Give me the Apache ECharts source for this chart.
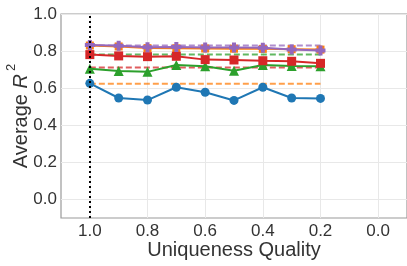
<!DOCTYPE html>
<html>
<head>
<meta charset="utf-8">
<script src="https://cdn.jsdelivr.net/npm/echarts@6/dist/echarts.min.js"></script>
<style>
html, body { margin: 0; padding: 0; background: #fff; }
#main { width: 407px; height: 266px; }
</style>
</head>
<body>
<div id="main"></div>
<script>
var quality = [1.0, 0.9, 0.8, 0.7, 0.6, 0.5, 0.4, 0.3, 0.2];
var blueVals = [0.626, 0.547, 0.536, 0.605, 0.578, 0.534, 0.605, 0.547, 0.545];
var orangeVals = [0.830, 0.825, 0.816, 0.815, 0.814, 0.813, 0.812, 0.810, 0.808];
var greenVals = [0.705, 0.693, 0.688, 0.725, 0.718, 0.694, 0.725, 0.720, 0.718];
var redVals = [0.781, 0.774, 0.770, 0.772, 0.754, 0.752, 0.748, 0.745, 0.734];
var purpleVals = [0.833, 0.829, 0.821, 0.822, 0.820, 0.820, 0.818, 0.809, 0.803];
// horizontal reference levels (dashed)
var refNames = ['orange', 'red', 'green', 'purple'];
var refVals = [0.624, 0.711, 0.781, 0.830];
var xTicks = [1.0, 0.8, 0.6, 0.4, 0.2, 0.0];
var yTicks = [0.0, 0.2, 0.4, 0.6, 0.8, 1.0];

var colors = {
    blue: '#1f77b4', orange: '#ff7f0e', green: '#2ca02c',
    red: '#d62728', purple: '#9467bd'
};

function pairs(vals) {
    return quality.map(function (q, i) { return [q, vals[i]]; });
}

var series = [];
refNames.forEach(function (n, i) {
    series.push({
        type: 'line',
        data: [[quality[0], refVals[i]], [quality[quality.length - 1], refVals[i]]],
        symbol: 'none',
        lineStyle: { color: colors[n], width: 2, type: [6, 3], opacity: 0.75 },
        z: 1
    });
});

function lineSeries(vals, color, symbol, size) {
    return {
        type: 'line',
        data: pairs(vals),
        symbol: symbol,
        symbolSize: size,
        lineStyle: { color: color, width: 2 },
        itemStyle: { color: color },
        z: 3
    };
}

var blue = lineSeries(blueVals, colors.blue, 'circle', 9);
blue.markLine = {
    silent: true,
    symbol: 'none',
    label: { show: false },
    lineStyle: { color: '#000', type: [2, 3], width: 2 },
    data: [{ xAxis: 1.0 }]
};
series.push(blue);
series.push(lineSeries(orangeVals, colors.orange, 'rect', 8));
series.push(lineSeries(greenVals, colors.green, 'triangle', 10));
series.push(lineSeries(redVals, colors.red, 'rect', 9));
series.push(lineSeries(purpleVals, colors.purple, 'path://M3,0H7V3H10V7H7V10H3V7H0V3H3Z', 10));

var myChart = echarts.init(document.getElementById('main'));
var option = {
    animation: false,
    textStyle: { fontFamily: 'Liberation Sans, Arial, sans-serif' },
    grid: {
        left: 61, right: 0, top: 14, bottom: 48,
        outerBoundsMode: 'none',
        containLabel: false,
        show: true, borderColor: '#9a9a9a', borderWidth: 1.2
    },
    xAxis: {
        type: 'value',
        inverse: true,
        min: -0.1,
        max: 1.1,
        name: 'Uniqueness Quality',
        nameLocation: 'middle',
        nameGap: 22,
        nameMoveOverlap: false,
        nameTextStyle: { fontSize: 20, color: '#333' },
        axisLine: { show: false },
        axisTick: { show: false, customValues: xTicks },
        axisLabel: {
            customValues: xTicks,
            fontSize: 17,
            color: '#333',
            margin: 5,
            formatter: function (v) { return v.toFixed(1); }
        },
        splitLine: { show: true, lineStyle: { color: '#e8e8e8', width: 1 } }
    },
    yAxis: {
        type: 'value',
        min: -0.1,
        max: 1.0,
        name: '{n|Average }{i|R}{s|2}',
        nameLocation: 'middle',
        nameGap: 30,
        nameMoveOverlap: false,
        nameRotate: 90,
        nameTextStyle: {
            color: '#333',
            rich: {
                n: { fontSize: 20, color: '#333', verticalAlign: 'bottom', lineHeight: 26 },
                i: { fontSize: 20, color: '#333', fontStyle: 'italic', verticalAlign: 'bottom', lineHeight: 26 },
                s: { fontSize: 13, color: '#333', verticalAlign: 'top', lineHeight: 26, padding: [0, 0, 0, 3] }
            }
        },
        axisLine: { show: false },
        axisTick: { show: false, customValues: yTicks },
        axisLabel: {
            customValues: yTicks,
            fontSize: 17,
            color: '#333',
            margin: 4,
            formatter: function (v) { return v.toFixed(1); }
        },
        splitLine: { show: true, lineStyle: { color: '#e8e8e8', width: 1 } }
    },
    series: series
};
myChart.setOption(option);
window.onresize = myChart.resize;
</script>
</body>
</html>
